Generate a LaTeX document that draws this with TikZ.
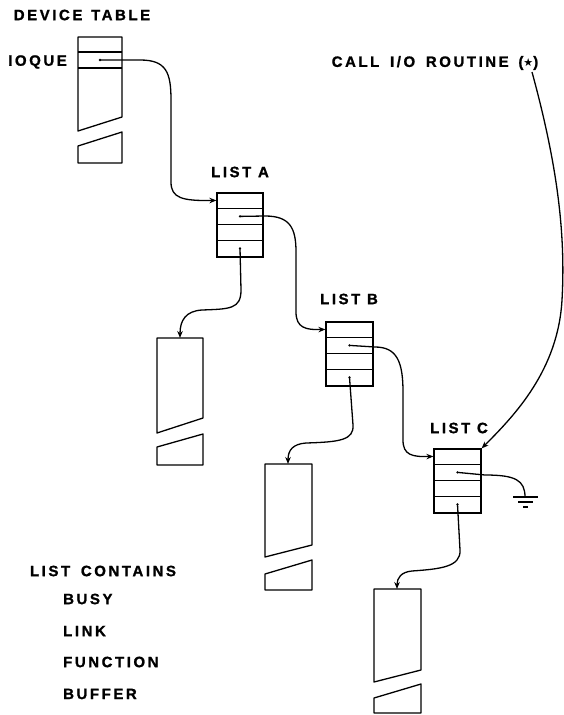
\documentclass[tikz,border=0pt]{standalone}
\usepackage{fontspec}
\setmainfont{Liberation Sans}
\newfontfamily\lblfont{Liberation Sans}[LetterSpace=17, FakeBold=1.2]
\newfontfamily\symfont{DejaVu Sans}
\usetikzlibrary{arrows.meta,calc}
\tikzset{
  lbl/.style={font=\lblfont\bfseries\fontsize{15}{17}\selectfont, inner sep=0pt},
  listbox/.style={draw, rectangle, line width=1.2pt, minimum width=46pt, minimum height=64pt, inner sep=0pt},
  ptr/.style={-{Stealth[length=7pt,width=5.5pt]}, line width=1.3pt},
  wire/.style={line width=1.3pt},
  outline/.style={line width=1.3pt, line join=round},
  rowline/.style={line width=1.2pt}
}
\begin{document}
\begin{tikzpicture}[x=1pt,y=-1pt]
\useasboundingbox (0,0) rectangle (564,715);

% texts
\node[lbl] (tdevice) at (82,15) {DEVICE\hspace{2pt} TABLE};
\node[lbl, anchor=east] (tioque) at (67,62) {IOQUE};
\node[lbl] (tla) at (240,172) {LIST A};
\node[lbl] (tlb) at (349,299) {LIST B};
\node[lbl] (tlc) at (459,428) {LIST C};
\node[lbl] (tcall) at (435,63) {CALL\hspace{4pt} I/O\hspace{4pt} ROUTINE\hspace{3pt} ({\symfont\fontsize{11}{11}\selectfont ★})};
\node[lbl] (tcont) at (103,571) {LIST\hspace{4pt} CONTAINS};
\node[lbl, anchor=west] (tbusy) at (63,599) {BUSY};
\node[lbl, anchor=west] (tlink) at (63,631) {LINK};
\node[lbl, anchor=west] (tfunc) at (63,662) {FUNCTION};
\node[lbl, anchor=west] (tbuf) at (63,694) {BUFFER};

% device table
\draw[outline] (122,117) -- (122,37) -- (78,37) -- (78,131) -- cycle;
\draw[rowline] (78,52) -- (122,52);
\draw[rowline] (78,68) -- (122,68);
\draw[outline] (78,146) -- (122,132) -- (122,163) -- (78,163) -- cycle;
\coordinate (dtdot) at (100,60);

% lists
\node[listbox] (la) at (240,225) {};
\node[listbox, minimum width=47pt] (lb) at (349.5,354) {};
\node[listbox, minimum width=47pt] (lc) at (457.5,481) {};
\foreach \n in {la,lb,lc}{
  \foreach \k in {16,32,48}
    \draw[rowline] ($(\n.north west)+(0,\k)$) -- ($(\n.north east)+(0,\k)$);
  \coordinate (\n-in) at ($(\n.north west)+(0,8)$);
  \coordinate (\n-link) at ($(\n.north)+(0,24)$);
  \coordinate (\n-buf) at ($(\n.north)+(0,56)$);
}

% buffers
\draw[outline] (203,418) -- (203,338) -- (157,338) -- (157,433) -- cycle;
\draw[outline] (157,447) -- (203,434) -- (203,465) -- (157,465) -- cycle;
\coordinate (bufa) at (180,338);
\draw[outline] (312,545) -- (312,464) -- (265,464) -- (265,557) -- cycle;
\draw[outline] (265,574) -- (312,560) -- (312,590) -- (265,590) -- cycle;
\coordinate (bufb) at (288,464);
\draw[outline] (421,670) -- (421,589) -- (374,589) -- (374,682) -- cycle;
\draw[outline] (374,698) -- (421,684) -- (421,713) -- (374,713) -- cycle;
\coordinate (bufc) at (397,589);

% dots
\foreach \p in {dtdot,la-link,la-buf,lb-link,lb-buf,lc-link,lc-buf}
  \fill (\p) circle (1.3pt);

% pointers
\draw[ptr] (dtdot) -- (140,60) .. controls (166,60) and (171,72) .. (171,100)
  -- (171,182) .. controls (171,198) and (182,201) .. (la-in);
\draw[ptr] (la-link) -- (265,216) .. controls (290,216) and (296,228) .. (296,252)
  -- (296,312) .. controls (296,328) and (306,330) .. (lb-in);
\draw[ptr] (lb-link) -- (375,347) .. controls (397,347) and (403,362) .. (403,392)
  -- (403,440) .. controls (403,455) and (412,457) .. (lc-in);
\draw[ptr] (la-buf) -- (241,290) .. controls (241,309) and (230,309) .. (202,310)
  .. controls (186,311) and (180,320) .. (bufa);
\draw[ptr] (lb-buf) -- (353,425) .. controls (354,440) and (340,442) .. (306,443)
  .. controls (293,444) and (288,450) .. (bufb);
\draw[ptr] (lc-buf) -- (460,550) .. controls (461,567) and (440,569) .. (412,571)
  .. controls (401,572) and (397,578) .. (bufc);

% call I/O routine
\coordinate (callstart) at (532,72);
\draw[ptr] (callstart) .. controls (556,160) and (566,230) .. (562,300)
  .. controls (558,370) and (515,415) .. (lc.north east);

% ground
\coordinate (gnd) at (525,497);
\draw[wire] (lc-link) -- (485,475) .. controls (515,475) and (525,480) .. (gnd);
\draw[wire] ($(gnd)+(-12,0)$) -- ($(gnd)+(13,0)$);
\draw[wire] ($(gnd)+(-7,5)$) -- ($(gnd)+(8,5)$);
\draw[wire] ($(gnd)+(-2,10)$) -- ($(gnd)+(3,10)$);
\end{tikzpicture}
\end{document}
